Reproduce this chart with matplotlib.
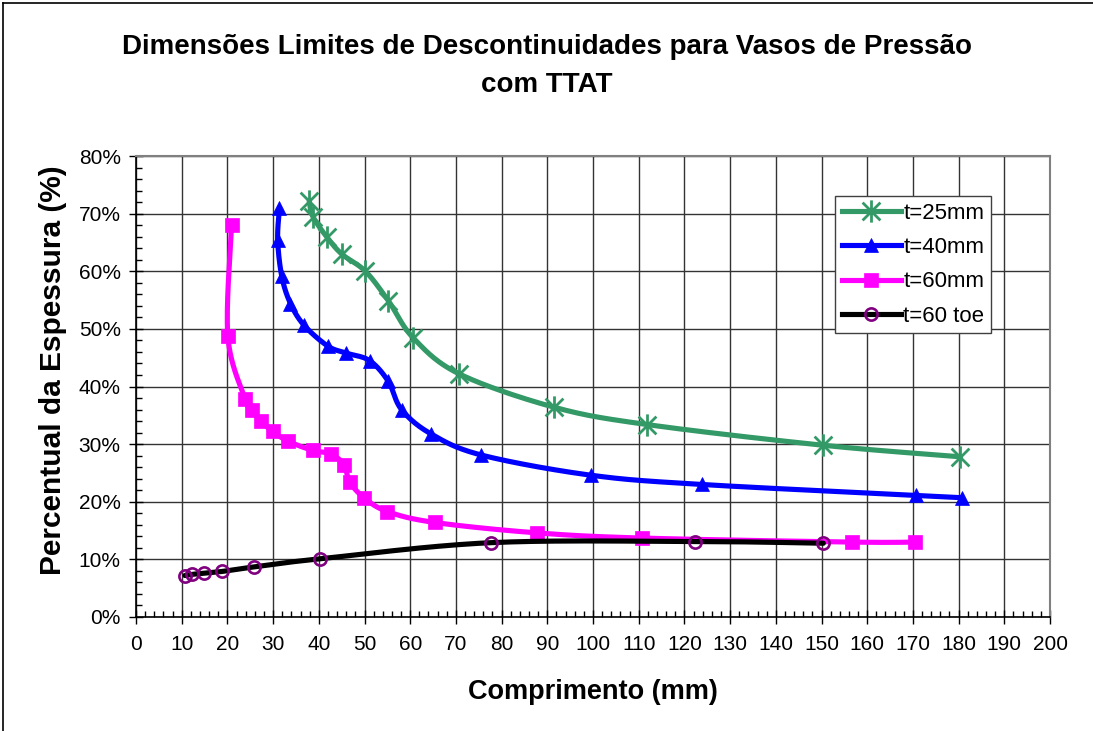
import numpy as np
import matplotlib
matplotlib.use("Agg")
import matplotlib.pyplot as plt
from matplotlib.path import Path
from matplotlib.ticker import MultipleLocator, FuncFormatter

plt.rcParams['font.family'] = ['Liberation Sans', 'DejaVu Sans']

title = "Dimensões Limites de Descontinuidades para Vasos de Pressão\ncom TTAT"
xlabel = "Comprimento (mm)"
ylabel = "Percentual da Espessura (%)"

labels = ["t=25mm", "t=40mm", "t=60mm", "t=60 toe"]

x_t25 = [37.9, 38.7, 41.7, 45.0, 50.2, 55.2, 60.7, 70.7, 91.5, 111.8, 150.4, 180.4]
y_t25 = [72.2, 69.5, 66.0, 63.0, 60.0, 54.9, 48.4, 42.2, 36.4, 33.4, 29.8, 27.8]

x_t40 = [31.4, 31.0, 31.9, 33.8, 36.8, 42.0, 46.0, 51.1, 55.2, 58.1, 64.5, 75.6, 99.6, 123.8, 170.7, 180.7]
y_t40 = [71.0, 65.5, 59.1, 54.4, 50.6, 47.0, 45.8, 44.5, 40.9, 36.0, 31.8, 28.1, 24.6, 23.0, 21.1, 20.7]

x_t60 = [20.9, 20.1, 23.9, 25.3, 27.3, 29.9, 33.3, 38.7, 42.7, 45.5, 46.8, 49.9, 55.0, 65.4, 87.7, 110.7, 156.6, 170.5]
y_t60 = [68.0, 48.7, 37.8, 35.9, 34.0, 32.2, 30.5, 28.9, 28.3, 26.4, 23.4, 20.7, 18.3, 16.4, 14.6, 13.7, 13.0, 13.0]

x_toe = [10.7, 12.3, 14.9, 18.8, 25.9, 40.3, 77.7, 122.3, 150.4]
y_toe = [7.2, 7.4, 7.6, 7.9, 8.7, 10.1, 12.9, 13.1, 12.8]


def smooth(xs, ys, n=30):
    P = np.column_stack([xs, ys]).astype(float)
    m = len(P)
    out = [P[0]]
    for i in range(m - 1):
        p0 = P[i - 1] if i > 0 else P[i]
        p1 = P[i]
        p2 = P[i + 1]
        p3 = P[i + 2] if i + 2 < m else P[i + 1]
        c1 = p1 + (p2 - p0) / 6.0
        c2 = p2 - (p3 - p1) / 6.0
        t = np.linspace(0, 1, n)[1:, None]
        seg = ((1 - t) ** 3) * p1 + 3 * ((1 - t) ** 2) * t * c1 + 3 * (1 - t) * t ** 2 * c2 + t ** 3 * p2
        out.extend(seg)
    out = np.array(out)
    return out[:, 0], out[:, 1]


star = Path([(-1, -1), (1, 1), (-1, 1), (1, -1), (0, -1.25), (0, 1.25)],
            [Path.MOVETO, Path.LINETO, Path.MOVETO, Path.LINETO, Path.MOVETO, Path.LINETO])

fig = plt.figure(figsize=(10.93, 7.31), dpi=100)
ax = fig.add_axes([136 / 1093, 1 - 617 / 731, 914 / 1093, 461 / 731])

LW = 3.7
series = [
    (x_t25, y_t25, '#339966', dict(marker=star, markersize=16, markeredgewidth=2.0,
                                   markeredgecolor='#339966', markerfacecolor='none')),
    (x_t40, y_t40, '#0000FF', dict(marker='^', markersize=10, markeredgewidth=0.5,
                                   markeredgecolor='#0000FF', markerfacecolor='#0000FF')),
    (x_t60, y_t60, '#FF00FF', dict(marker='s', markersize=9.5, markeredgewidth=0.5,
                                   markeredgecolor='#FF00FF', markerfacecolor='#FF00FF')),
    (x_toe, y_toe, '#000000', dict(marker='o', markersize=8.8, markeredgewidth=1.9,
                                   markeredgecolor='#800080', markerfacecolor='none')),
]

handles = []
for k, (xs, ys, col, mk) in enumerate(series):
    sx, sy = smooth(xs, ys)
    ax.plot(sx, sy, color=col, lw=LW, zorder=3 + k, solid_capstyle='round')
    ax.plot(xs, ys, linestyle='none', zorder=3 + k, **mk)
    h, = ax.plot([], [], color=col, lw=LW, **mk)
    handles.append(h)

ax.set_xlim(0, 200)
ax.set_ylim(0, 80)
ax.xaxis.set_major_locator(MultipleLocator(10))
ax.xaxis.set_minor_locator(MultipleLocator(2))
ax.yaxis.set_major_locator(MultipleLocator(10))
ax.yaxis.set_minor_locator(MultipleLocator(2))
ax.yaxis.set_major_formatter(FuncFormatter(lambda v, p: f"{int(round(v))}%"))
ax.grid(True, which='major', color='#333333', lw=1.0)
ax.set_axisbelow(True)
ax.tick_params(which='major', direction='inout', length=10, width=1, labelsize=15,
               top=False, right=False)
ax.tick_params(axis='x', which='major', pad=8)
ax.tick_params(axis='y', which='major', pad=6)
ax.tick_params(which='minor', direction='in', length=4, width=1, top=False, right=False)
for s in ['left', 'bottom']:
    ax.spines[s].set_color('black')
    ax.spines[s].set_linewidth(1.2)
for s in ['top', 'right']:
    ax.spines[s].set_color('#808080')
    ax.spines[s].set_linewidth(1.5)

ax.set_xlabel(xlabel, fontsize=19.5, fontweight='bold', labelpad=18)
fig.text(53 / 1093, 1 - 370 / 731, ylabel, rotation=90, ha='center', va='center',
         fontsize=21.5, fontweight='bold')
fig.text(0.5, 1 - 66 / 731, title, ha='center', va='center', fontsize=20,
         fontweight='bold', linespacing=1.55)

leg = ax.legend(handles, labels, loc='upper left', bbox_to_anchor=(0.7648, 0.9132),
                borderaxespad=0, fontsize=16, frameon=True, fancybox=False,
                edgecolor='#404040', framealpha=1, handlelength=2.65, handletextpad=0.12,
                labelspacing=0.6, borderpad=0.3)
leg.get_frame().set_linewidth(1.0)

fig.add_artist(plt.Line2D([3 / 1093, 1], [1 - 3 / 731, 1 - 3 / 731], color='black', lw=1.2))
fig.add_artist(plt.Line2D([3 / 1093, 3 / 1093], [0, 1 - 3 / 731], color='black', lw=1.2))

fig.savefig("out.png", dpi=100)
